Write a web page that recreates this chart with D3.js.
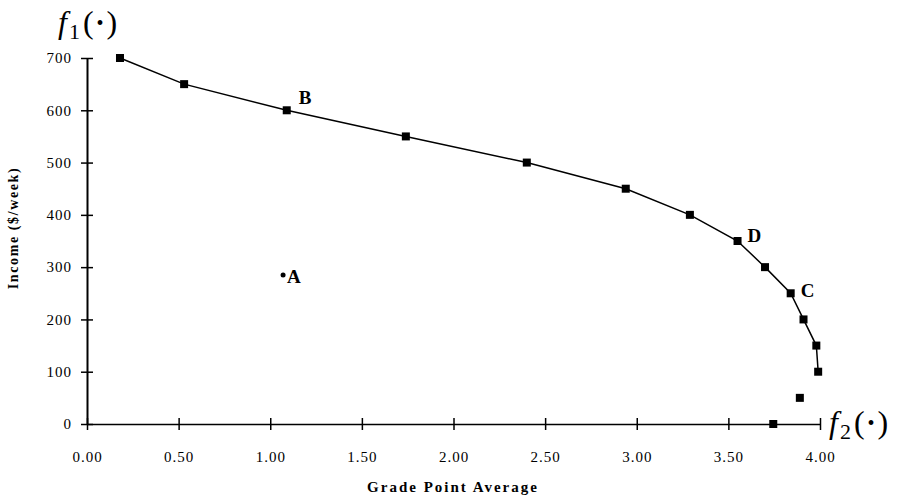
<!DOCTYPE html>
<html>
<head>
<meta charset="utf-8">
<script src="https://cdn.jsdelivr.net/npm/d3@7"></script>
<style>
  body { margin: 0; background: #fff; }
  svg { font-family: "Liberation Serif", "DejaVu Serif", serif; }
</style>
</head>
<body>
<svg id="chart" width="902" height="497"></svg>
<script>
// frontier points (grade point average, income $/week)
const gpa    = [0.18, 0.53, 1.09, 1.74, 2.40, 2.94, 3.29, 3.55, 3.70, 3.84, 3.91, 3.98, 3.99, 3.89, 3.745];
const income = [700, 650, 600, 550, 500, 450, 400, 350, 300, 250, 200, 150, 100, 50, 0];
// only the first 13 are joined by the line
const lineCount = 13;

const xTicks = [0, 0.5, 1, 1.5, 2, 2.5, 3, 3.5, 4];
const yTicks = [0, 100, 200, 300, 400, 500, 600, 700];

// labelled points
const labelNames = ["A", "B", "C", "D"];
const labelGpa = [1.07, 1.09, 3.84, 3.55];
const labelIncome = [285, 600, 250, 350];

const svg = d3.select("#chart");

// scales
var x = d3.scaleLinear().domain([0, 4]).range([87, 820]);
var y = d3.scaleLinear().domain([0, 700]).range([424, 58]);

// x axis
var xAxis = svg.append("g")
  .attr("transform", "translate(0," + y(0) + ")")
  .call(d3.axisBottom(x).tickValues(xTicks).tickFormat(d3.format(".2f")).tickSize(6).tickSizeOuter(0));
xAxis.select(".domain").attr("stroke", "#000").attr("stroke-width", 1.6);
xAxis.selectAll(".tick line").attr("y1", -6).attr("stroke-width", 1.5);
xAxis.selectAll(".tick text")
  .attr("y", 27)
  .style("font-size", "15px")
  .style("letter-spacing", "1px")
  .style("font-family", "Liberation Serif");

// y axis
var yAxis = svg.append("g")
  .attr("transform", "translate(" + x(0) + ",0)")
  .call(d3.axisLeft(y).tickValues(yTicks).tickSize(6).tickSizeOuter(0));
yAxis.select(".domain").attr("stroke", "#000").attr("stroke-width", 2);
yAxis.selectAll(".tick line").attr("x1", 6).attr("x2", -6).attr("stroke-width", 1.5);
yAxis.selectAll(".tick text")
  .attr("x", -15)
  .style("font-size", "15px")
  .style("letter-spacing", "1px")
  .style("font-family", "Liberation Serif");

// axis titles
svg.append("text")
  .attr("x", 453)
  .attr("y", 492)
  .attr("text-anchor", "middle")
  .style("font-size", "15px")
  .style("font-weight", "bold")
  .style("letter-spacing", "2px")
  .text("Grade Point Average");

svg.append("text")
  .attr("transform", "translate(18,228) rotate(-90)")
  .attr("text-anchor", "middle")
  .style("font-size", "14px")
  .style("font-weight", "bold")
  .style("letter-spacing", "1.6px")
  .text("Income ($/week)");

// objective labels f1(.) and f2(.)
function objLabel(px, py, sub) {
  var t = svg.append("text")
    .attr("x", px)
    .attr("y", py)
    .style("font-size", "32px");
  t.append("tspan").style("font-style", "italic").text("f");
  t.append("tspan").attr("dx", 2).attr("dy", 6).style("font-size", "22px").text(sub);
  t.append("tspan").attr("dx", 3).attr("dy", -6).text("(");
  t.append("tspan").attr("dx", 3).attr("dy", -3).style("font-size", "20px").text("\u2022");
  t.append("tspan").attr("dx", 3).attr("dy", 3).text(")");
}
objLabel(58, 33, "1");
objLabel(829, 433, "2");

// frontier line
var pts = gpa.map(function(g, i) { return { g: g, v: income[i] }; });
var line = d3.line()
  .x(function(d) { return x(d.g); })
  .y(function(d) { return y(d.v); });

svg.append("path")
  .datum(pts.slice(0, lineCount))
  .attr("fill", "none")
  .attr("stroke", "#000")
  .attr("stroke-width", 1.5)
  .attr("d", line);

// square markers
svg.selectAll("rect.pt")
  .data(pts)
  .enter().append("rect")
  .attr("class", "pt")
  .attr("x", function(d) { return x(d.g) - 4; })
  .attr("y", function(d) { return y(d.v) - 4; })
  .attr("width", 8)
  .attr("height", 8)
  .attr("fill", "#000");

// point A
svg.append("circle")
  .attr("cx", x(labelGpa[0]))
  .attr("cy", y(labelIncome[0]))
  .attr("r", 2.5)
  .attr("fill", "#000");

// letter labels
var offs = [[4, 8], [12, -6], [10, 4], [10, 1]];
labelNames.forEach(function(n, i) {
  svg.append("text")
    .attr("x", x(labelGpa[i]) + offs[i][0])
    .attr("y", y(labelIncome[i]) + offs[i][1])
    .style("font-size", "19px")
    .style("font-weight", "bold")
    .text(n);
});
</script>
</body>
</html>
